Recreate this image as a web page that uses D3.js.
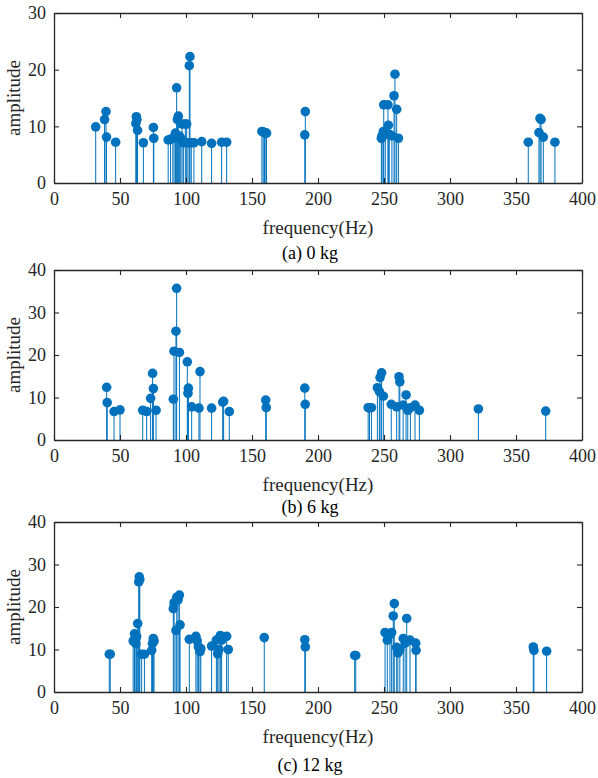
<!DOCTYPE html>
<html>
<head>
<meta charset="utf-8">
<script src="https://cdn.jsdelivr.net/npm/d3@7"></script>
<style>
  body { margin: 0; background: #fff; }
  svg { display: block; }
</style>
</head>
<body>
<main></main>
<script>
// (a) 0 kg
const freqA = [31.6, 38.3, 39.4, 39.8, 46.7, 62.0, 62.4, 62.8, 63.3, 67.7, 75.3, 75.6, 86.5, 88.3, 90.0, 91.0, 92.0, 92.9, 93.5, 94.2, 95.0, 96.0, 97.0, 98.0, 99.5, 100.5, 101.5, 102.5, 103.0, 104.0, 106.0, 111.9, 119.4, 127.0, 130.8, 157.5, 158.5, 159.5, 160.5, 161.0, 190.0, 190.4, 248.0, 248.5, 249.5, 249.8, 251.0, 253.0, 253.3, 254.0, 256.0, 257.6, 258.3, 259.6, 260.9, 359.3, 367.4, 368.2, 369.0, 370.7, 379.5];
const ampA = [9.9, 11.2, 12.6, 8.1, 7.2, 10.5, 11.7, 11.2, 9.3, 7.1, 9.8, 7.9, 7.6, 7.7, 7.9, 8.0, 8.8, 16.8, 11.2, 11.8, 8.3, 7.9, 10.4, 7.1, 10.4, 10.4, 7.1, 20.7, 22.3, 7.1, 7.1, 7.3, 7.0, 7.2, 7.2, 9.1, 9.0, 8.9, 8.8, 8.8, 8.5, 12.6, 7.9, 8.3, 9.1, 13.8, 8.5, 13.8, 10.2, 8.6, 8.3, 15.4, 19.2, 13.0, 7.9, 7.2, 8.9, 11.4, 11.2, 8.1, 7.2];

// (b) 6 kg
const freqB = [39.9, 40.3, 45.5, 50.0, 67.2, 70.2, 73.2, 74.7, 75.3, 77.3, 90.4, 90.9, 92.4, 92.9, 95.0, 101.0, 101.5, 101.8, 104.3, 109.8, 110.6, 119.4, 127.8, 128.5, 132.8, 160.4, 160.8, 190.0, 190.3, 238.0, 239.0, 240.5, 245.0, 246.5, 247.0, 248.2, 249.5, 255.5, 259.6, 261.4, 262.0, 264.5, 266.7, 268.0, 270.0, 273.5, 276.8, 321.5, 372.5];
const ampB = [12.4, 8.8, 6.7, 7.1, 7.0, 6.7, 9.8, 15.7, 12.1, 7.0, 9.6, 20.9, 25.6, 35.7, 20.6, 18.4, 11.0, 12.2, 7.8, 7.5, 16.1, 7.5, 8.9, 9.1, 6.7, 9.4, 7.6, 12.2, 8.4, 7.6, 7.6, 7.6, 12.3, 11.4, 14.7, 15.8, 10.3, 8.4, 7.8, 14.9, 13.7, 8.2, 10.6, 7.0, 7.6, 8.2, 7.0, 7.3, 6.8];

// (c) 12 kg
const freqC = [41.9, 42.6, 60.0, 61.0, 62.0, 62.6, 63.4, 64.2, 64.6, 65.0, 66.4, 68.5, 74.0, 74.6, 75.2, 75.8, 90.4, 91.0, 92.4, 93.0, 94.0, 95.0, 95.5, 102.5, 107.5, 108.5, 109.4, 110.6, 111.2, 119.4, 123.0, 124.0, 125.0, 126.0, 127.0, 130.8, 132.0, 159.3, 190.0, 190.4, 227.8, 228.6, 250.8, 252.5, 254.5, 255.8, 257.0, 257.8, 259.6, 260.5, 262.0, 264.6, 266.0, 267.2, 269.7, 274.0, 274.3, 363.1, 363.6, 373.2];
const ampC = [8.9, 8.9, 12.0, 13.7, 11.4, 13.0, 16.1, 25.9, 27.1, 26.5, 8.9, 8.9, 9.8, 11.4, 12.6, 12.0, 19.6, 21.0, 14.5, 22.3, 21.7, 22.8, 15.8, 12.4, 13.1, 12.0, 10.6, 9.5, 10.2, 10.8, 12.2, 9.0, 10.0, 13.3, 12.2, 13.1, 10.0, 12.8, 12.3, 10.6, 8.6, 8.6, 14.0, 12.2, 13.5, 14.0, 17.9, 20.8, 10.5, 9.2, 10.0, 12.6, 11.5, 17.3, 12.2, 11.5, 9.8, 10.6, 9.8, 9.6];

const xTicks = [0, 50, 100, 150, 200, 250, 300, 350, 400];
const yTicksA = [0, 10, 20, 30];
const yTicksB = [0, 10, 20, 30, 40];
const yTicksC = [0, 10, 20, 30, 40];
const captions = ["(a) 0 kg", "(b) 6 kg", "(c) 12 kg"];

const width = 598;
const height = 778;
const left = 54;
const right = 582;
const blue = "#0072BD";
const axisColor = "#262626";
const font = "'Liberation Serif', 'Times New Roman', serif";

const svg = d3.select("main").append("svg").attr("width", width).attr("height", height);

const panels = [
  { freq: freqA, amp: ampA, yTicks: yTicksA, top: 13, bottom: 183, caption: captions[0], capY: 259 },
  { freq: freqB, amp: ampB, yTicks: yTicksB, top: 270, bottom: 440, caption: captions[1], capY: 513 },
  { freq: freqC, amp: ampC, yTicks: yTicksC, top: 522, bottom: 692, caption: captions[2], capY: 771 },
];

const drawPanel = (p) => {
  const xScale = d3.scaleLinear().domain([0, 400]).range([left, right]);
  const yScale = d3
    .scaleLinear()
    .domain([0, d3.max(p.yTicks)])
    .range([p.bottom, p.top]);

  const g = svg.append("g");

  // stems + markers
  const pts = p.freq.map((f, i) => ({ f: f, a: p.amp[i] }));
  g.selectAll(".stem")
    .data(pts)
    .enter()
    .append("line")
    .attr("class", "stem")
    .attr("x1", (d) => xScale(d.f))
    .attr("x2", (d) => xScale(d.f))
    .attr("y1", yScale(0))
    .attr("y2", (d) => yScale(d.a))
    .attr("stroke", blue)
    .attr("stroke-width", 1);

  g.selectAll(".dot")
    .data(pts)
    .enter()
    .append("circle")
    .attr("class", "dot")
    .attr("cx", (d) => xScale(d.f))
    .attr("cy", (d) => yScale(d.a))
    .attr("r", 4.8)
    .attr("fill", blue);

  // axes, ticks inward on all four sides
  const xAxisB = d3.axisBottom(xScale).tickValues(xTicks).tickSizeInner(-5).tickSizeOuter(0).tickPadding(9);
  const xAxisT = d3.axisTop(xScale).tickValues(xTicks).tickSizeInner(-5).tickSizeOuter(0).tickFormat("");
  const yAxisL = d3.axisLeft(yScale).tickValues(p.yTicks).tickSizeInner(-5).tickSizeOuter(0).tickPadding(8);
  const yAxisR = d3.axisRight(yScale).tickValues(p.yTicks).tickSizeInner(-5).tickSizeOuter(0).tickFormat("");

  const axes = [
    g.append("g").attr("transform", `translate(0, ${p.bottom})`).call(xAxisB),
    g.append("g").attr("transform", `translate(0, ${p.top})`).call(xAxisT),
    g.append("g").attr("transform", `translate(${left}, 0)`).call(yAxisL),
    g.append("g").attr("transform", `translate(${right}, 0)`).call(yAxisR),
  ];
  axes.forEach((a) => {
    a.selectAll("path").attr("stroke", axisColor).attr("stroke-width", 1.3);
    a.selectAll("line").attr("stroke", axisColor).attr("stroke-width", 1.1);
    a.selectAll("text")
      .attr("fill", axisColor)
      .style("font-family", font)
      .style("font-size", "18px");
  });

  g.append("text")
    .attr("x", (left + right) / 2)
    .attr("y", p.bottom + 51)
    .attr("text-anchor", "middle")
    .attr("fill", axisColor)
    .style("font-family", font)
    .style("font-size", "19px")
    .text("frequency(Hz)");

  g.append("text")
    .attr("transform", `translate(20, ${(p.top + p.bottom) / 2}) rotate(-90)`)
    .attr("text-anchor", "middle")
    .attr("fill", axisColor)
    .style("font-family", font)
    .style("font-size", "19px")
    .text("amplitude");

  g.append("text")
    .attr("x", 310)
    .attr("y", p.capY)
    .attr("text-anchor", "middle")
    .attr("fill", "#000")
    .style("font-family", font)
    .style("font-size", "18px")
    .text(p.caption);
};

panels.forEach(drawPanel);
</script>
</body>
</html>
